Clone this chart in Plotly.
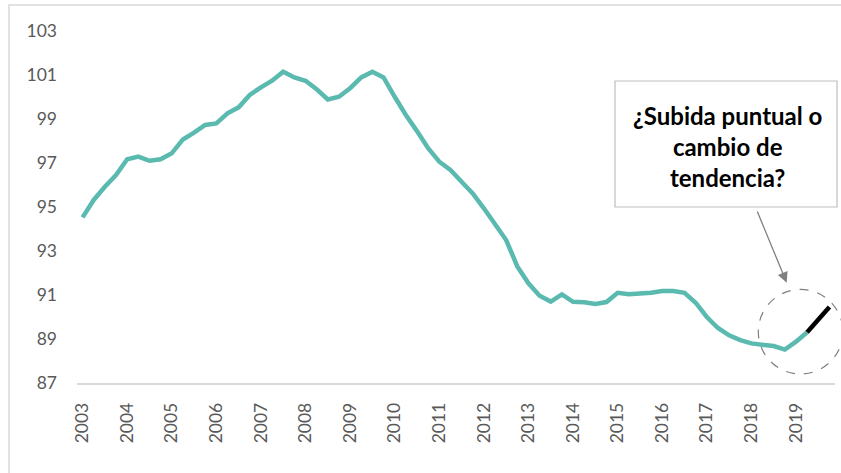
import plotly.graph_objects as go

years = list(range(2003, 2020))
quarters = [f"{y}-T{q}" for y in years for q in range(1, 5)]
values = [
    94.53, 95.32, 95.92, 96.45, 97.17, 97.29, 97.10, 97.17,
    97.44, 98.07, 98.38, 98.73, 98.80, 99.26, 99.53, 100.09,
    100.44, 100.74, 101.15, 100.89, 100.74, 100.35, 99.89, 100.01,
    100.40, 100.89, 101.15, 100.89, 100.01, 99.18, 98.45, 97.67,
    97.06, 96.68, 96.15, 95.62, 94.94, 94.18, 93.50, 92.30,
    91.53, 90.97, 90.70, 91.03, 90.69, 90.67, 90.59, 90.68,
    91.10, 91.03, 91.04, 91.10, 91.18, 91.18, 91.10, 90.65,
    90.00, 89.50, 89.17, 88.95, 88.80, 88.72, 88.68, 88.52,
    88.88, 89.31, 89.90, 90.45,
]
highlight_start = 65  # last segment drawn in black
tick_vals = [f"{y}-T1" for y in years]
tick_text = [str(y) for y in years]
y_ticks = [87, 89, 91, 93, 95, 97, 99, 101, 103]
note_text = "¿Subida puntual o<br>cambio de<br>tendencia?"

TEAL = "#5BBAB0"

fig = go.Figure()
fig.add_trace(go.Scatter(
    x=quarters[:highlight_start + 1], y=values[:highlight_start + 1],
    mode="lines", line=dict(color=TEAL, width=4.5), hoverinfo="skip",
))
fig.add_trace(go.Scatter(
    x=quarters[highlight_start:], y=values[highlight_start:],
    mode="lines", line=dict(color="black", width=4.5), hoverinfo="skip",
))

fig.update_layout(
    width=841, height=473,
    margin=dict(l=77, r=6, t=31, b=90),
    plot_bgcolor="white", paper_bgcolor="white",
    showlegend=False,
    font=dict(family="Lato, 'Open Sans', sans-serif", color="#595959", size=17.5),
    xaxis=dict(
        type="category", categoryorder="array", categoryarray=quarters,
        range=[-0.5, len(quarters) - 0.5],
        tickmode="array", tickvals=tick_vals, ticktext=tick_text,
        tickangle=-90, showgrid=False, zeroline=False,
        showline=True, linecolor="#D9D9D9", linewidth=1.5,
        ticks="", ticklabelstandoff=11,
        tickfont=dict(size=17.5, color="#595959"),
    ),
    yaxis=dict(
        range=[87, 103], tickmode="array", tickvals=y_ticks,
        showgrid=False, zeroline=False, showline=False, ticks="",
        ticklabelstandoff=19,
        tickfont=dict(size=17.5, color="#595959"),
    ),
)

# outer chart frame
fig.add_shape(type="rect", xref="paper", yref="paper",
              x0=(9 - 77) / 758, x1=1.2, y0=-0.4, y1=(383 - 5) / 352,
              line=dict(color="#D9D9D9", width=1.5), fillcolor="rgba(0,0,0,0)",
              layer="below")

# dashed circle around the last segment (paper-referenced so it is not clipped)
fig.add_shape(type="circle", xref="paper", yref="paper",
              x0=(758.3 - 77) / 758, x1=(842.9 - 77) / 758,
              y0=(383 - 374) / 352, y1=(383 - 289.4) / 352,
              line=dict(color="#808080", width=1.2, dash="dash"))

# annotation box
fig.add_shape(type="rect", xref="paper", yref="paper",
              x0=(615 - 77) / 758, x1=(837 - 77) / 758,
              y0=(383 - 207) / 352, y1=(383 - 81) / 352,
              line=dict(color="#BFBFBF", width=1.2), fillcolor="white")
fig.add_annotation(
    xref="paper", yref="paper",
    x=(727.5 - 77) / 758, y=(383 - 146) / 352,
    text=note_text, showarrow=False,
    font=dict(family="Lato, sans-serif", size=24, color="black", weight="bold"),
    align="center", xanchor="center", yanchor="middle",
)
# arrow
fig.add_annotation(
    xref="paper", yref="paper", axref="pixel", ayref="pixel",
    x=(786.7 - 77) / 758, y=(383 - 282.7) / 352,
    ax=-30, ay=-72.7, text="", showarrow=True,
    arrowhead=2, arrowsize=1.6, arrowwidth=1.3, arrowcolor="#808080",
)

fig.write_html("out.html", config={"displayModeBar": False},
               post_script="document.body.style.margin='0px';")
